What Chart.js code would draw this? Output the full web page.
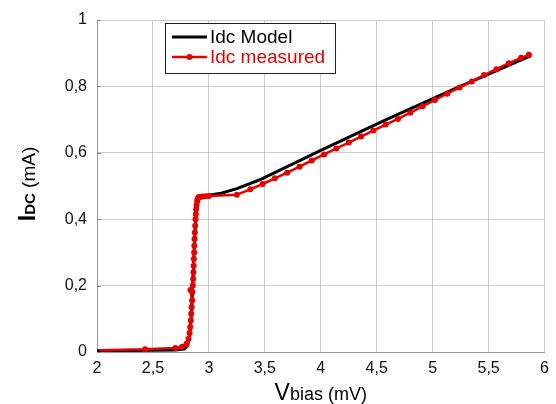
<!DOCTYPE html>
<html>
<head>
<meta charset="utf-8">
<script src="https://cdn.jsdelivr.net/npm/chart.js@4.4.1/dist/chart.umd.min.js"></script>
<style>
html,body{margin:0;padding:0;background:#fff;}
#wrap{width:556px;height:404px;}
</style>
</head>
<body>
<div id="wrap"><canvas id="c" width="556" height="404"></canvas></div>
<script>
// ---- data ----
const modelV = [2.0, 2.5, 2.7, 2.78, 2.81, 2.83, 2.845, 2.855, 2.865, 2.875, 2.885, 2.895, 2.905, 2.92, 2.95, 3.0, 3.11, 3.25, 3.45, 4.0, 4.58, 5.2, 5.88];
const modelI = [0.004, 0.005, 0.006, 0.009, 0.02, 0.05, 0.12, 0.2, 0.28, 0.35, 0.41, 0.44, 0.455, 0.463, 0.468, 0.472, 0.478, 0.492, 0.518, 0.607, 0.699, 0.793, 0.893];

const measV = [2.02, 2.43, 2.70, 2.76, 2.80, 2.818, 2.827, 2.833, 2.838, 2.842, 2.846, 2.85, 2.835, 2.853, 2.856, 2.859, 2.862, 2.864, 2.866, 2.868, 2.870, 2.872, 2.874, 2.877, 2.880, 2.883, 2.886, 2.890, 2.895, 2.90, 2.91, 2.94, 2.97, 3.0,
  3.25, 3.37, 3.48, 3.59, 3.70, 3.81, 3.92, 4.03, 4.14, 4.25, 4.36, 4.47, 4.58, 4.69, 4.80, 4.91, 5.02, 5.13, 5.24, 5.35, 5.46, 5.57, 5.68, 5.79, 5.86];
const measI = [0.005, 0.008, 0.012, 0.016, 0.025, 0.04, 0.057, 0.075, 0.095, 0.115, 0.135, 0.155, 0.187, 0.18, 0.20, 0.22, 0.24, 0.26, 0.28, 0.30, 0.32, 0.34, 0.36, 0.38, 0.40, 0.415, 0.43, 0.443, 0.455, 0.462, 0.467, 0.468, 0.469, 0.47,
  0.474, 0.490, 0.506, 0.523, 0.540, 0.558, 0.577, 0.595, 0.613, 0.631, 0.649, 0.667, 0.685, 0.702, 0.721, 0.740, 0.759, 0.778, 0.797, 0.815, 0.834, 0.852, 0.870, 0.886, 0.895];

const xTickValues = [2, 2.5, 3, 3.5, 4, 4.5, 5, 5.5, 6];
const xTickLabels = ['2', '2,5', '3', '3,5', '4', '4,5', '5', '5,5', '6'];
const yTickValues = [0, 0.2, 0.4, 0.6, 0.8, 1];
const yTickLabels = ['0', '0,2', '0,4', '0,6', '0,8', '1'];

const seriesNames = ['Idc Model', 'Idc measured'];
const xTitle = ['V', 'bias (mV)'];
const yTitle = ['I', 'DC', ' (mA)'];

// ---- styles ----
const FONT = "'Liberation Sans', Arial, sans-serif";
const RED = '#e60000';
const BLACK = '#000000';

const toPts = (xs, ys) => xs.map((x, i) => ({x: x, y: ys[i]}));

const titlesPlugin = {
  id: 'titles',
  afterDraw(chart) {
    const ctx = chart.ctx;
    const a = chart.chartArea;
    ctx.save();
    ctx.fillStyle = '#000';
    ctx.textBaseline = 'alphabetic';
    ctx.textAlign = 'left';
    const f1 = '23px ' + FONT, f2 = '18px ' + FONT;
    ctx.font = f1; const w1 = ctx.measureText(xTitle[0]).width;
    ctx.font = f2; const w2 = ctx.measureText(xTitle[1]).width;
    let x0 = (a.left + a.right) / 2 - (w1 + w2) / 2;
    ctx.font = f1; ctx.fillText(xTitle[0], x0, 400);
    ctx.font = f2; ctx.fillText(xTitle[1], x0 + w1, 400);
    ctx.translate(35, 184);
    ctx.rotate(-Math.PI / 2);
    const fy = ['bold 23px ' + FONT, 'bold 15px ' + FONT, '19px ' + FONT];
    const ws = yTitle.map((t, i) => { ctx.font = fy[i]; return ctx.measureText(t).width; });
    let tot = ws.reduce((s, v) => s + v, 0);
    let xx = -tot / 2;
    yTitle.forEach((t, i) => { ctx.font = fy[i]; ctx.fillText(t, xx, 0); xx += ws[i]; });
    ctx.restore();
  },
  afterDatasetsDraw(chart) {
    const ctx = chart.ctx;
    const ys = chart.scales.y;
    const a = chart.chartArea;
    ctx.save();
    ctx.strokeStyle = '#888';
    ctx.lineWidth = 1;
    yTickValues.forEach(v => {
      const py = Math.round(ys.getPixelForValue(v)) + 0.5;
      ctx.beginPath(); ctx.moveTo(a.left, py); ctx.lineTo(a.left + 4, py); ctx.stroke();
    });
    ctx.restore();
  }
};

const legendPlugin = {
  id: 'boxLegend',
  afterDraw(chart) {
    const ctx = chart.ctx;
    ctx.save();
    const bx = 165.5, by = 23.5, bw = 170, bh = 50;
    ctx.fillStyle = '#fff';
    ctx.fillRect(bx, by, bw, bh);
    ctx.strokeStyle = '#222';
    ctx.lineWidth = 1;
    ctx.strokeRect(bx, by, bw, bh);
    const rows = [{c: BLACK, y: 37, dot: false}, {c: RED, y: 57, dot: true}];
    ctx.font = '19px ' + FONT;
    ctx.textBaseline = 'middle';
    ctx.textAlign = 'left';
    rows.forEach((r, i) => {
      ctx.strokeStyle = r.c;
      ctx.lineWidth = i === 0 ? 3 : 2.5;
      ctx.beginPath(); ctx.moveTo(172, r.y); ctx.lineTo(207, r.y); ctx.stroke();
      if (r.dot) {
        ctx.fillStyle = r.c;
        ctx.beginPath(); ctx.arc(189.5, r.y, 3, 0, Math.PI * 2); ctx.fill();
      }
      ctx.fillStyle = r.c;
      ctx.fillText(chart.data.datasets[i].label, 210, r.y + 1);
    });
    ctx.restore();
  }
};

new Chart(document.getElementById('c'), {
  type: 'scatter',
  data: {
    datasets: [
      {
        label: seriesNames[0],
        data: toPts(modelV, modelI),
        showLine: true,
        borderColor: BLACK,
        borderWidth: 3,
        pointRadius: 0,
        tension: 0,
        borderJoinStyle: 'round',
        order: 2
      },
      {
        label: seriesNames[1],
        data: toPts(measV, measI),
        showLine: true,
        borderColor: RED,
        backgroundColor: RED,
        borderWidth: 2.5,
        borderJoinStyle: 'round',
        pointRadius: (c) => c.dataIndex === 0 ? 0 : 3,
        pointBorderWidth: 0,
        pointBackgroundColor: RED,
        order: 1
      }
    ]
  },
  options: {
    responsive: false,
    devicePixelRatio: 1,
    animation: false,
    layout: {padding: {top: 20, right: 9, left: 0, bottom: 0}},
    plugins: {legend: {display: false}, tooltip: {enabled: false}},
    scales: {
      x: {
        type: 'linear',
        min: 2, max: 6,
        afterFit(s) { s.height = 52; },
        afterBuildTicks(s) { s.ticks = xTickValues.map(v => ({value: v})); },
        ticks: {
          padding: 7,
          color: '#111',
          font: {family: FONT, size: 16},
          maxRotation: 0,
          autoSkip: false,
          callback: (v, i) => xTickLabels[i]
        },
        grid: {color: '#cccccc', lineWidth: 1, drawTicks: false},
        border: {color: '#999', width: 1}
      },
      y: {
        type: 'linear',
        min: 0, max: 1,
        afterFit(s) { s.width = 97; },
        afterBuildTicks(s) { s.ticks = yTickValues.map(v => ({value: v})); },
        ticks: {
          padding: 10,
          color: '#111',
          font: {family: FONT, size: 16},
          autoSkip: false,
          callback: (v, i) => yTickLabels[i]
        },
        grid: {color: '#cccccc', lineWidth: 1, drawTicks: false},
        border: {color: '#999', width: 1}
      }
    }
  },
  plugins: [titlesPlugin, legendPlugin]
});
</script>
</body>
</html>
